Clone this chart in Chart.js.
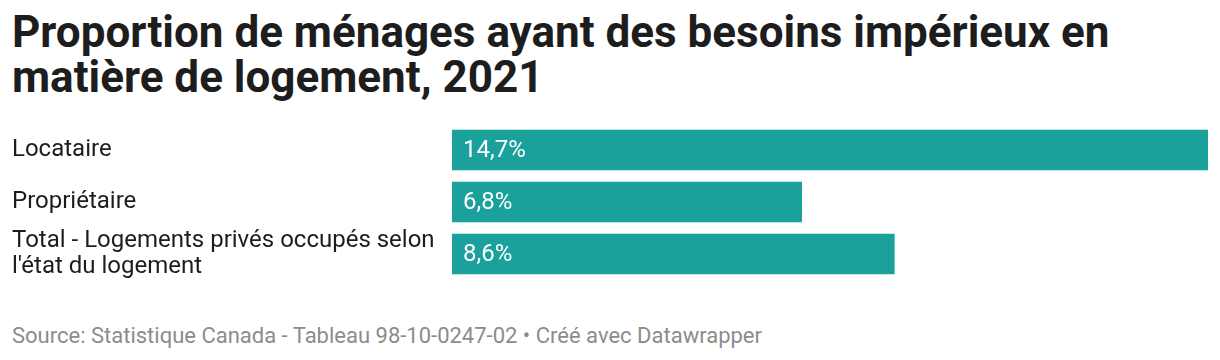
<!DOCTYPE html>
<html>
<head>
<meta charset="utf-8">
<script src="https://cdn.jsdelivr.net/npm/chart.js@4"></script>
<style>
  body { margin: 0; background: #fff; width: 1220px; height: 360px; overflow: hidden; font-family: Roboto, sans-serif; }
  #title { position: absolute; left: 12px; top: 10px; font-weight: 700; font-size: 44px; line-height: 45px; color: #1d1d1d; margin: 0; }
  #wrap { position: absolute; left: 0; top: 124px; width: 1220px; height: 156px; }
  #footer { position: absolute; left: 12px; top: 323px; font-size: 22px; color: #8c8c8c; }
</style>
</head>
<body>
<h1 id="title">Proportion de ménages ayant des besoins impérieux en<br>matière de logement, 2021</h1>
<div id="wrap"><canvas id="chart"></canvas></div>
<div id="footer">Source: Statistique Canada - Tableau 98-10-0247-02 • Créé avec Datawrapper</div>
<script>
const categories = [
    'Locataire',
    'Propriétaire',
    ['Total - Logements privés occupés selon', "l'état du logement"]
];
const values = [14.7, 6.8, 8.6];
const valueLabels = ['14,7%', '6,8%', '8,6%'];

// white value labels inside the bars
const valueLabelPlugin = {
    id: 'valueLabels',
    afterDatasetsDraw(chart) {
        const ctx = chart.ctx;
        const meta = chart.getDatasetMeta(0);
        ctx.save();
        ctx.font = '24px Roboto';
        ctx.fillStyle = '#ffffff';
        ctx.textAlign = 'left';
        ctx.textBaseline = 'middle';
        meta.data.forEach((bar, i) => {
            ctx.fillText(valueLabels[i], bar.base + 11, bar.y + 1);
        });
        ctx.restore();
    }
};

new Chart(document.getElementById('chart'), {
    type: 'bar',
    data: {
        labels: categories,
        datasets: [{
            data: values,
            backgroundColor: '#1aa19c',
            barThickness: 40
        }]
    },
    options: {
        indexAxis: 'y',
        responsive: true,
        maintainAspectRatio: false,
        animation: false,
        layout: { padding: { left: 12, right: 12, top: 0, bottom: 0 } },
        plugins: {
            legend: { display: false },
            tooltip: { enabled: false }
        },
        scales: {
            x: {
                display: false,
                min: 0,
                max: 14.7
            },
            y: {
                grid: { display: false },
                border: { display: false },
                ticks: {
                    autoSkip: false,
                    crossAlign: 'far',
                    color: '#1d1d1d',
                    font: { family: 'Roboto', size: 24, lineHeight: 1.1 },
                    padding: 0
                },
                afterFit(axis) {
                    axis.width = 440;
                    // labels sit inside their bands, no extra room needed
                    axis.paddingTop = 0;
                    axis.paddingBottom = 0;
                }
            }
        }
    },
    plugins: [valueLabelPlugin]
});
</script>
</body>
</html>
